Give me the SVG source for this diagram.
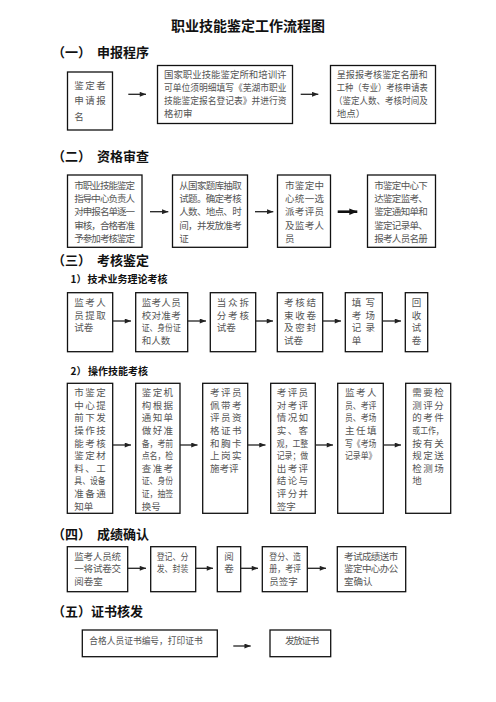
<svg xmlns="http://www.w3.org/2000/svg" width="496" height="702" viewBox="0 0 496 702">
<style>
.bx{fill:#fff;stroke:#111;stroke-width:1.3}
.t{font-family:"Noto Sans CJK SC","Noto Sans",sans-serif;font-size:9.5px;fill:#555}
.h{font-family:"Noto Sans CJK SC","Noto Sans",sans-serif;font-weight:bold;font-size:13px;fill:#111}
.s{font-family:"Noto Sans CJK SC","Noto Sans",sans-serif;font-weight:bold;font-size:10px;fill:#111}
.ti{font-family:"Noto Sans CJK SC","Noto Sans",sans-serif;font-weight:bold;font-size:14px;fill:#111}
.a{stroke:#222;stroke-width:1.3;fill:none;marker-end:url(#ah)}
.ab{stroke:#111;stroke-width:2.6;fill:none;marker-end:url(#ahb)}
</style>
<defs>
<marker id="ah" viewBox="0 0 10 8" refX="10" refY="4" markerWidth="7" markerHeight="5" markerUnits="userSpaceOnUse" orient="auto"><path d="M0,0 L10,4 L0,8 z" fill="#222"/></marker>
<marker id="ahb" viewBox="0 0 10 8" refX="10" refY="4" markerWidth="8" markerHeight="7" markerUnits="userSpaceOnUse" orient="auto"><path d="M0,0 L10,4 L0,8 z" fill="#111"/></marker>
</defs>
<rect width="496" height="702" fill="#fff"/>

<text class="ti" x="248" y="31" text-anchor="middle">职业技能鉴定工作流程图</text>

<g id="headings">
<text class="h" x="52" y="56.5">（一）</text><text class="h" x="97" y="56.5">申报程序</text>
<text class="h" x="52" y="161">（二）</text><text class="h" x="97" y="161">资格审查</text>
<text class="h" x="52" y="264.5">（三）</text><text class="h" x="97" y="264.5">考核鉴定</text>
<text class="s" x="70.5" y="283">1）</text><text class="s" x="87.5" y="283">技术业务理论考核</text>
<text class="s" x="70.5" y="374.5">2）</text><text class="s" x="88" y="374.5">操作技能考核</text>
<text class="h" x="52" y="538.5">（四）</text><text class="h" x="97" y="538.5">成绩确认</text>
<text class="h" x="52" y="616">（五）证书核发</text>
</g>

<!-- Section 1 -->
<g id="s1n1"><rect class="bx" x="67.5" y="72" width="45" height="58"/>
<text class="t" x="74.3" y="89" textLength="31.4">鉴定者</text>
<text class="t" x="74.3" y="103.5" textLength="31.4">申请报</text>
<text class="t" x="74.3" y="120">名</text></g>
<g id="s1n2"><rect class="bx" x="157.5" y="65.5" width="135" height="58"/>
<text class="t" x="164" y="77.5" textLength="122.5" lengthAdjust="spacingAndGlyphs">国家职业技能鉴定所和培训许</text>
<text class="t" x="164" y="91" textLength="122.5" lengthAdjust="spacingAndGlyphs">可单位须明细填写《芜湖市职业</text>
<text class="t" x="164" y="104" textLength="122.5" lengthAdjust="spacingAndGlyphs">技能鉴定报名登记表》并进行资</text>
<text class="t" x="164" y="116.5">格初审</text></g>
<g id="s1n3"><rect class="bx" x="330.5" y="65.5" width="105" height="58"/>
<text class="t" x="336.7" y="77.5" textLength="91" lengthAdjust="spacingAndGlyphs">呈报报考核鉴定名册和</text>
<text class="t" x="336.7" y="91" textLength="91" lengthAdjust="spacingAndGlyphs">工种（专业）考核申请表</text>
<text class="t" x="334" y="104" textLength="93.7" lengthAdjust="spacingAndGlyphs">（鉴定人数、考核时间及</text>
<text class="t" x="336.7" y="116.5">地点）</text></g>

<!-- Section 2 -->
<g id="s2n1"><rect class="bx" x="67.5" y="175" width="74.5" height="72.3"/>
<text class="t" x="74.3" y="188.5" textLength="60.7">市职业技能鉴定</text>
<text class="t" x="74.3" y="202" textLength="60.7">指导中心负责人</text>
<text class="t" x="74.3" y="215" textLength="60.7">对申报名单逐一</text>
<text class="t" x="74.3" y="228.5" textLength="60.7">审核，合格者准</text>
<text class="t" x="74.3" y="242" textLength="60.7">予参加考核鉴定</text></g>
<g id="s2n2"><rect class="bx" x="172.5" y="175" width="75" height="72.3"/>
<text class="t" x="179.3" y="188.5" textLength="62.4">从国家题库抽取</text>
<text class="t" x="179.3" y="202" textLength="62.4">试题。确定考核</text>
<text class="t" x="179.3" y="215" textLength="62.4">人数、地点、时</text>
<text class="t" x="179.3" y="228.5" textLength="62.4">间，并发放准考</text>
<text class="t" x="179.3" y="242">证</text></g>
<g id="s2n3"><rect class="bx" x="277.5" y="175" width="53" height="72.3"/>
<text class="t" x="285" y="188.5" textLength="39">市鉴定中</text>
<text class="t" x="285" y="202" textLength="39">心统一选</text>
<text class="t" x="285" y="215" textLength="39">派考评员</text>
<text class="t" x="285" y="228.5" textLength="39">及监考人</text>
<text class="t" x="285" y="242">员</text></g>
<g id="s2n4"><rect class="bx" x="367.5" y="175" width="68" height="72.3"/>
<text class="t" x="374.3" y="188.5" textLength="53.4">市鉴定中心下</text>
<text class="t" x="374.3" y="202" textLength="53.4">达鉴定监考、</text>
<text class="t" x="374.3" y="215" textLength="53.4">鉴定通知单和</text>
<text class="t" x="374.3" y="228.5" textLength="53.4">鉴定记录单、</text>
<text class="t" x="374.3" y="242" textLength="53.4">报考人员名册</text></g>

<!-- Section 3.1 -->
<g id="s31n1"><rect class="bx" x="67.5" y="292.7" width="45.2" height="59"/>
<text class="t" x="74.3" y="306" textLength="31.4">监考人</text>
<text class="t" x="74.3" y="318.5" textLength="31.4">员提取</text>
<text class="t" x="74.3" y="331">试卷</text></g>
<g id="s31n2"><rect class="bx" x="135.7" y="292.7" width="52" height="59"/>
<text class="t" x="141.7" y="306" textLength="39">监考人员</text>
<text class="t" x="141.7" y="318.5" textLength="39">校对准考</text>
<text class="t" x="141.7" y="331" textLength="39" lengthAdjust="spacingAndGlyphs">证、身份证</text>
<text class="t" x="141.7" y="343.5">和人数</text></g>
<g id="s31n3"><rect class="bx" x="210.3" y="292.7" width="45.4" height="59"/>
<text class="t" x="216.7" y="306" textLength="32.3">当众拆</text>
<text class="t" x="216.7" y="318.5" textLength="32.3">分考核</text>
<text class="t" x="216.7" y="331">试卷</text></g>
<g id="s31n4"><rect class="bx" x="277.3" y="292.7" width="45.4" height="59"/>
<text class="t" x="284" y="306" textLength="32">考核结</text>
<text class="t" x="284" y="318.5" textLength="32">束收卷</text>
<text class="t" x="284" y="331" textLength="32">及密封</text>
<text class="t" x="284" y="343.5">试卷</text></g>
<g id="s31n5"><rect class="bx" x="345.3" y="292.7" width="37" height="59"/>
<text class="t" x="351.7" y="306" textLength="23.3">填写</text>
<text class="t" x="351.7" y="318.5" textLength="23.3">考场</text>
<text class="t" x="351.7" y="331" textLength="23.3">记录</text>
<text class="t" x="351.7" y="343.5">单</text></g>
<g id="s31n6"><rect class="bx" x="405.3" y="292.7" width="22.4" height="59"/>
<text class="t" x="411.8" y="306">回</text>
<text class="t" x="411.8" y="318.5">收</text>
<text class="t" x="411.8" y="331">试</text>
<text class="t" x="411.8" y="343.5">卷</text></g>

<!-- Section 3.2 -->
<g id="s32n1"><rect class="bx" x="67.3" y="383.3" width="45.4" height="130"/>
<text class="t" x="74.3" y="396.2" textLength="31.4">市鉴定</text>
<text class="t" x="74.3" y="408.8" textLength="31.4">中心提</text>
<text class="t" x="74.3" y="421.4" textLength="31.4">前下发</text>
<text class="t" x="74.3" y="434" textLength="31.4">操作技</text>
<text class="t" x="74.3" y="446.6" textLength="31.4">能考核</text>
<text class="t" x="74.3" y="459.2" textLength="31.4">鉴定材</text>
<text class="t" x="74.3" y="471.8" textLength="31.4">料、工</text>
<text class="t" x="74.3" y="484.4" textLength="31.4" lengthAdjust="spacingAndGlyphs">具、设备</text>
<text class="t" x="74.3" y="497" textLength="31.4">准备通</text>
<text class="t" x="74.3" y="509.6">知单</text></g>
<g id="s32n2"><rect class="bx" x="135.7" y="383.3" width="44.3" height="130"/>
<text class="t" x="141.7" y="396.2" textLength="31.4">鉴定机</text>
<text class="t" x="141.7" y="408.8" textLength="31.4">构根据</text>
<text class="t" x="141.7" y="421.4" textLength="31.4">通知单</text>
<text class="t" x="141.7" y="434" textLength="31.4">做好准</text>
<text class="t" x="141.7" y="446.6" textLength="31.4" lengthAdjust="spacingAndGlyphs">备，考前</text>
<text class="t" x="141.7" y="459.2" textLength="31.4" lengthAdjust="spacingAndGlyphs">点名，检</text>
<text class="t" x="141.7" y="471.8" textLength="31.4">查准考</text>
<text class="t" x="141.7" y="484.4" textLength="31.4" lengthAdjust="spacingAndGlyphs">证、身份</text>
<text class="t" x="141.7" y="497" textLength="31.4" lengthAdjust="spacingAndGlyphs">证，抽签</text>
<text class="t" x="141.7" y="509.6">换号</text></g>
<g id="s32n3"><rect class="bx" x="202.7" y="383.3" width="45" height="130"/>
<text class="t" x="210" y="396.2" textLength="31.4">考评员</text>
<text class="t" x="210" y="408.8" textLength="31.4">佩带考</text>
<text class="t" x="210" y="421.4" textLength="31.4">评员资</text>
<text class="t" x="210" y="434" textLength="31.4">格证书</text>
<text class="t" x="210" y="446.6" textLength="31.4">和胸卡</text>
<text class="t" x="210" y="459.2" textLength="31.4">上岗实</text>
<text class="t" x="210" y="471.8">施考评</text></g>
<g id="s32n4"><rect class="bx" x="270.7" y="383.3" width="44.6" height="130"/>
<text class="t" x="276.7" y="396.2" textLength="31.4">考评员</text>
<text class="t" x="276.7" y="408.8" textLength="31.4">对考评</text>
<text class="t" x="276.7" y="421.4" textLength="31.4">情况如</text>
<text class="t" x="276.7" y="434" textLength="31.4">实、客</text>
<text class="t" x="276.7" y="446.6" textLength="31.4" lengthAdjust="spacingAndGlyphs">观，工整</text>
<text class="t" x="276.7" y="459.2" textLength="31.4" lengthAdjust="spacingAndGlyphs">记录；做</text>
<text class="t" x="276.7" y="471.8" textLength="31.4">出考评</text>
<text class="t" x="276.7" y="484.4" textLength="31.4">结论与</text>
<text class="t" x="276.7" y="497" textLength="31.4">评分并</text>
<text class="t" x="276.7" y="509.6">签字</text></g>
<g id="s32n5"><rect class="bx" x="337.7" y="383.3" width="45.6" height="130"/>
<text class="t" x="345" y="396.2" textLength="31.4">监考人</text>
<text class="t" x="345" y="408.8" textLength="31.4" lengthAdjust="spacingAndGlyphs">员、考评</text>
<text class="t" x="345" y="421.4" textLength="31.4" lengthAdjust="spacingAndGlyphs">员、考场</text>
<text class="t" x="345" y="434" textLength="31.4">主任填</text>
<text class="t" x="345" y="446.6" textLength="31.4" lengthAdjust="spacingAndGlyphs">写《考场</text>
<text class="t" x="345" y="459.2" textLength="31.4" lengthAdjust="spacingAndGlyphs">记录单》</text></g>
<g id="s32n6"><rect class="bx" x="405.7" y="383.3" width="45" height="130"/>
<text class="t" x="412.3" y="396.2" textLength="31.4">需要检</text>
<text class="t" x="412.3" y="408.8" textLength="31.4">测评分</text>
<text class="t" x="412.3" y="421.4" textLength="31.4">的考件</text>
<text class="t" x="412.3" y="434" textLength="31.4" lengthAdjust="spacingAndGlyphs">或工作，</text>
<text class="t" x="412.3" y="446.6" textLength="31.4">按有关</text>
<text class="t" x="412.3" y="459.2" textLength="31.4">规定送</text>
<text class="t" x="412.3" y="471.8" textLength="31.4">检测场</text>
<text class="t" x="412.3" y="484.4">地</text></g>

<!-- Section 4 -->
<g id="s4n1"><rect class="bx" x="67.3" y="546.7" width="60.4" height="45"/>
<text class="t" x="74.3" y="559.5" textLength="46.7">监考人员统</text>
<text class="t" x="74.3" y="572" textLength="46.7">一将试卷交</text>
<text class="t" x="74.3" y="584.5">阅卷室</text></g>
<g id="s4n2"><rect class="bx" x="150.7" y="546.7" width="45" height="45"/>
<text class="t" x="156.7" y="559.5" textLength="31.7" lengthAdjust="spacingAndGlyphs">登记、分</text>
<text class="t" x="156.7" y="572" textLength="31.7" lengthAdjust="spacingAndGlyphs">发、封装</text></g>
<g id="s4n3"><rect class="bx" x="217.3" y="546.7" width="23.4" height="45"/>
<text class="t" x="224.3" y="559.5">阅</text>
<text class="t" x="224.3" y="572">卷</text></g>
<g id="s4n4"><rect class="bx" x="262.3" y="546.7" width="45" height="45"/>
<text class="t" x="269.3" y="559.5" textLength="31.7" lengthAdjust="spacingAndGlyphs">登分、造</text>
<text class="t" x="269.3" y="572" textLength="31.7" lengthAdjust="spacingAndGlyphs">册，考评</text>
<text class="t" x="269.3" y="584.5">员签字</text></g>
<g id="s4n5"><rect class="bx" x="337.3" y="546.7" width="68.4" height="45"/>
<text class="t" x="344" y="559.5" textLength="54.3">考试成绩送市</text>
<text class="t" x="344" y="572" textLength="54.3">鉴定中心办公</text>
<text class="t" x="344" y="584.5">室确认</text></g>

<!-- Section 5 -->
<g id="s5n1"><rect class="bx" x="82.3" y="630" width="135" height="26.7"/>
<text class="t" x="89.3" y="643.5" textLength="113.4" lengthAdjust="spacingAndGlyphs">合格人员证书编号，打印证书</text></g>
<g id="s5n2"><rect class="bx" x="270" y="630" width="60.7" height="26.7"/>
<text class="t" x="285" y="643.5" textLength="34.3">发放证书</text></g>

<g id="connectors">
<line class="a" x1="128.3" y1="94.3" x2="146" y2="94.3"/>
<line class="a" x1="300.7" y1="94.3" x2="318.3" y2="94.3"/>
<line class="a" x1="150" y1="211.7" x2="168.3" y2="211.7"/>
<line class="a" x1="255" y1="211.7" x2="273.3" y2="211.7"/>
<line class="ab" x1="337.7" y1="211.7" x2="357.3" y2="211.7"/>
<line class="a" x1="112.7" y1="321" x2="131" y2="321"/>
<line class="a" x1="187.7" y1="321" x2="206" y2="321"/>
<line class="a" x1="255.7" y1="321" x2="273" y2="321"/>
<line class="a" x1="322.7" y1="321" x2="341" y2="321"/>
<line class="a" x1="382.3" y1="321" x2="401" y2="321"/>
<line class="a" x1="112.7" y1="445" x2="131" y2="445"/>
<line class="a" x1="180" y1="445" x2="197.5" y2="445"/>
<line class="a" x1="247.7" y1="445" x2="265.5" y2="445"/>
<line class="a" x1="315.3" y1="445" x2="333" y2="445"/>
<line class="a" x1="383.3" y1="445" x2="401" y2="445"/>
<line class="a" x1="127.7" y1="568.3" x2="146" y2="568.3"/>
<line class="a" x1="195.7" y1="568.3" x2="213" y2="568.3"/>
<line class="a" x1="240.7" y1="568.3" x2="258" y2="568.3"/>
<line class="a" x1="308" y1="568.3" x2="326" y2="568.3"/>
<line class="a" x1="233.3" y1="646" x2="250.7" y2="646"/>
</g>
</svg>
